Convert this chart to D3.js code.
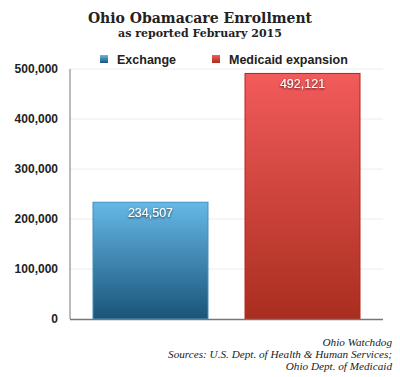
<!DOCTYPE html>
<html>
<head>
<meta charset="utf-8">
<script src="https://cdn.jsdelivr.net/npm/d3@7"></script>
<style>
  body { margin: 0; background: #fff; }
</style>
</head>
<body>
<div id="chart"></div>
<script>
// Data
const categories = ["Exchange", "Medicaid expansion"];
const enrollment = [234507, 492121];
const yTicks = [0, 100000, 200000, 300000, 400000, 500000];
const sourceLines = ["Ohio Watchdog", "Sources: U.S. Dept. of Health & Human Services;", "Ohio Dept. of Medicaid"];

const width = 400, height = 377;
const margin = { top: 69, right: 17, bottom: 58, left: 70 };

const svg = d3.select("#chart")
    .append("svg")
    .attr("width", width)
    .attr("height", height);

// Gradients for the bars
const defs = svg.append("defs");
const gradients = [
    { id: "grad-blue", top: "#66b8e6", bottom: "#195479" },
    { id: "grad-red", top: "#f25b5b", bottom: "#a92e1f" }
];
gradients.forEach(g => {
    const lg = defs.append("linearGradient")
        .attr("id", g.id)
        .attr("x1", 0).attr("y1", 0).attr("x2", 0).attr("y2", 1);
    lg.append("stop").attr("offset", "0%").attr("stop-color", g.top);
    lg.append("stop").attr("offset", "100%").attr("stop-color", g.bottom);
});
const borderColors = ["#3f8fc0", "#b52518"];

// Text shadow for value labels
const filter = defs.append("filter").attr("id", "shadow")
    .attr("x", "-20%").attr("y", "-40%").attr("width", "140%").attr("height", "180%");
filter.append("feDropShadow")
    .attr("dx", 0).attr("dy", 1)
    .attr("stdDeviation", 1)
    .attr("flood-color", "#000")
    .attr("flood-opacity", 0.7);

// Scales
const x = d3.scaleBand()
    .domain(categories)
    .range([margin.left, width - margin.right])
    .paddingInner(0.237)
    .paddingOuter(0.148);

const y = d3.scaleLinear()
    .domain([0, 500000])
    .range([height - margin.bottom, margin.top]);

// Gridlines
svg.append("g")
    .selectAll("line")
    .data(yTicks.filter(d => d > 0))
    .join("line")
    .attr("x1", margin.left)
    .attr("x2", width - margin.right)
    .attr("y1", d => y(d))
    .attr("y2", d => y(d))
    .attr("stroke", "#ececec")
    .attr("stroke-width", 1);

// Y axis labels
const yAxis = svg.append("g")
    .attr("transform", `translate(${margin.left},0)`)
    .call(d3.axisLeft(y).tickValues(yTicks).tickSize(0).tickPadding(12)
        .tickFormat(d3.format(",")));
yAxis.select(".domain").remove();
yAxis.selectAll("text")
    .style("font-family", "'Liberation Sans', Arial, sans-serif")
    .style("font-size", "12px")
    .style("font-weight", "bold")
    .style("fill", "#222");

// Bars
svg.append("g")
    .selectAll("rect")
    .data(enrollment)
    .join("rect")
    .attr("x", (d, i) => x(categories[i]) + 0.5)
    .attr("y", d => y(d) + 0.5)
    .attr("width", x.bandwidth() - 1)
    .attr("height", d => y(0) - y(d) - 0.5)
    .attr("fill", (d, i) => `url(#${gradients[i].id})`)
    .attr("stroke", (d, i) => borderColors[i])
    .attr("stroke-width", 1);

// Value labels
svg.append("g")
    .selectAll("text")
    .data(enrollment)
    .join("text")
    .attr("x", (d, i) => x(categories[i]) + x.bandwidth() / 2)
    .attr("y", d => y(d) + 15)
    .attr("text-anchor", "middle")
    .attr("filter", "url(#shadow)")
    .style("font-family", "'Liberation Sans', Arial, sans-serif")
    .style("font-size", "12.5px")
    .style("fill", "#fff")
    .text(d => d3.format(",")(d));

// Axis lines
svg.append("line")
    .attr("x1", margin.left).attr("x2", margin.left)
    .attr("y1", margin.top).attr("y2", y(0))
    .attr("stroke", "#777").attr("stroke-width", 1);
svg.append("line")
    .attr("x1", margin.left).attr("x2", width - margin.right)
    .attr("y1", y(0) + 0.5).attr("y2", y(0) + 0.5)
    .attr("stroke", "#777").attr("stroke-width", 1.5);

// Title
svg.append("text")
    .attr("x", 200).attr("y", 23)
    .attr("text-anchor", "middle")
    .style("font-family", "'DejaVu Serif', 'Liberation Serif', serif")
    .style("font-size", "14px")
    .style("font-weight", "bold")
    .style("fill", "#222")
    .text("Ohio Obamacare Enrollment");

svg.append("text")
    .attr("x", 200).attr("y", 37)
    .attr("text-anchor", "middle")
    .style("font-family", "'DejaVu Serif', 'Liberation Serif', serif")
    .style("font-size", "11px")
    .style("font-weight", "bold")
    .style("fill", "#222")
    .text("as reported February 2015");

// Legend
const legendX = [100, 212];
const legend = svg.append("g")
    .selectAll("g")
    .data(categories)
    .join("g")
    .attr("transform", (d, i) => `translate(${legendX[i]},55)`);
legend.append("rect")
    .attr("width", 8).attr("height", 8)
    .attr("fill", (d, i) => `url(#${gradients[i].id})`);
legend.append("text")
    .attr("x", 17).attr("y", 8.5)
    .style("font-family", "'Liberation Sans', Arial, sans-serif")
    .style("font-size", "12.5px")
    .style("font-weight", "bold")
    .style("fill", "#222")
    .text(d => d);

// Sources
svg.append("g")
    .selectAll("text")
    .data(sourceLines)
    .join("text")
    .attr("x", 392)
    .attr("y", (d, i) => 346 + i * 12)
    .attr("text-anchor", "end")
    .style("font-family", "'Liberation Serif', 'DejaVu Serif', serif")
    .style("font-size", "11.2px")
    .style("font-style", "italic")
    .style("fill", "#222")
    .text(d => d);
</script>
</body>
</html>
